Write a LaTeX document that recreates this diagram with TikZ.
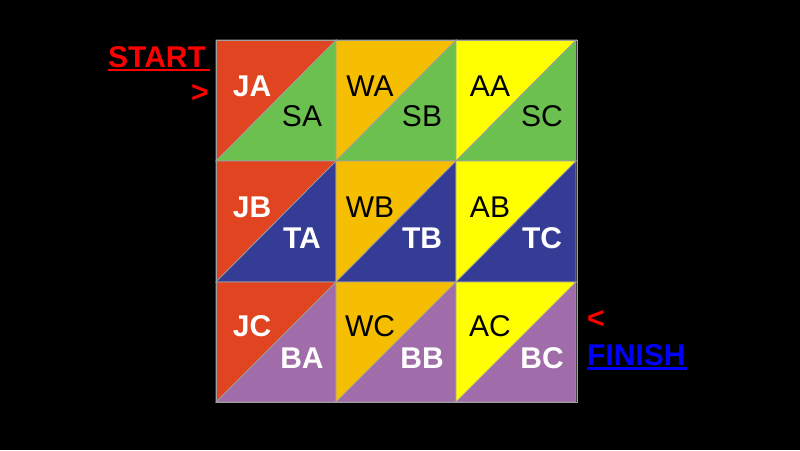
\documentclass[tikz,border=0pt]{standalone}
\usepackage{fontspec}
\setmainfont{Liberation Sans}
\definecolor{cRed}{HTML}{E04420}
\definecolor{cGreen}{HTML}{6CC050}
\definecolor{cOrange}{HTML}{F5BE00}
\definecolor{cYellow}{HTML}{FFFF00}
\definecolor{cBlue}{HTML}{343C96}
\definecolor{cPurple}{HTML}{A06CAA}
\definecolor{cLine}{HTML}{A0A0A0}
\definecolor{cFin}{HTML}{0000FF}
\definecolor{cStart}{HTML}{FF0000}
\begin{document}
\begin{tikzpicture}[x=1pt,y=-1pt,
  wlab/.style={inner sep=0pt,font=\fontsize{30}{30}\selectfont\bfseries,text=white},
  blab/.style={inner sep=0pt,font=\fontsize{30}{30}\selectfont,text=black},
  tri/.style={draw=cLine,line width=0.7pt},
  tag/.style={inner sep=0pt,font=\fontsize{30}{30}\selectfont\bfseries}]
\fill[black] (0,0) rectangle (800,450);
\useasboundingbox (0,0) rectangle (800,450);
\foreach \c/\up/\lo in {0/cRed/cGreen,1/cOrange/cGreen,2/cYellow/cGreen}{
  \pgfmathsetmacro\xx{216+120*\c}
  \fill[\up,tri] (\xx,40) -- (\xx+120,40) -- (\xx,161) -- cycle;
  \fill[\lo,tri] (\xx+120,40) -- (\xx+120,161) -- (\xx,161) -- cycle;
}
\foreach \c/\up/\lo in {0/cRed/cBlue,1/cOrange/cBlue,2/cYellow/cBlue}{
  \pgfmathsetmacro\xx{216+120*\c}
  \fill[\up,tri] (\xx,161) -- (\xx+120,161) -- (\xx,282) -- cycle;
  \fill[\lo,tri] (\xx+120,161) -- (\xx+120,282) -- (\xx,282) -- cycle;
}
\foreach \c/\up/\lo in {0/cRed/cPurple,1/cOrange/cPurple,2/cYellow/cPurple}{
  \pgfmathsetmacro\xx{216+120*\c}
  \fill[\up,tri] (\xx,282) -- (\xx+120,282) -- (\xx,402) -- cycle;
  \fill[\lo,tri] (\xx+120,282) -- (\xx+120,402) -- (\xx,402) -- cycle;
}
\draw[cLine,line width=1pt] (216,40) rectangle (577,402);
% labels row 1
\node[wlab] (ja) at (252,86) {JA};
\node[blab] (sa) at (302,116) {SA};
\node[blab] (wa) at (370,86) {WA};
\node[blab] (sb) at (422,116) {SB};
\node[blab] (aa) at (490,86) {AA};
\node[blab] (sc) at (542,116) {SC};
% row 2
\node[wlab] (jb) at (252,207) {JB};
\node[wlab] (ta) at (302,238) {TA};
\node[blab] (wb) at (370,207) {WB};
\node[wlab] (tb) at (422,238) {TB};
\node[blab] (ab) at (490,207) {AB};
\node[wlab] (tc) at (542,238) {TC};
% row 3
\node[wlab] (jc) at (252,326) {JC};
\node[wlab] (ba) at (302,358) {BA};
\node[blab] (wc) at (370,326) {WC};
\node[wlab] (bb) at (422,358) {BB};
\node[blab] (ac) at (490,326) {AC};
\node[wlab] (bc) at (542,358) {BC};
% start / finish
\node[tag,text=cStart,anchor=south west] (start) at (108,68) {START};
\fill[cStart] (108,68.5) rectangle (210,71);
\node[tag,text=cStart] (gt) at (200,93) {>};
\node[tag,text=cStart] (lt) at (596,319) {<};
\node[tag,text=cFin,anchor=south west] (finish) at (587,366) {FINISH};
\fill[cFin] (587,367) rectangle (687,369.5);
\end{tikzpicture}
\end{document}
